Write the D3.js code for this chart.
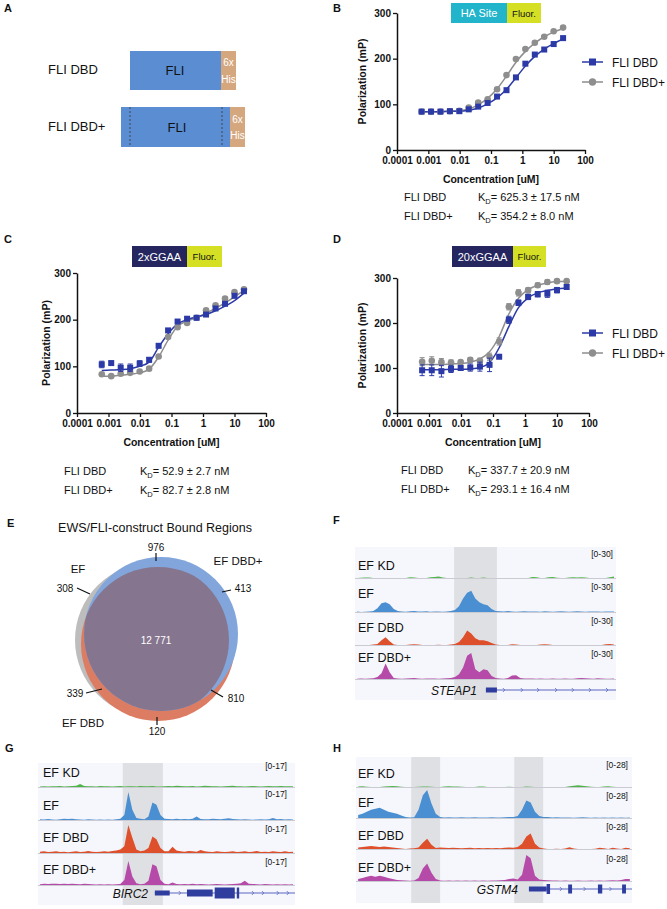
<!DOCTYPE html>
<html><head><meta charset="utf-8">
<script src="https://cdn.jsdelivr.net/npm/d3@7"></script>
<style>body{margin:0;background:#fff}svg{display:block}text{font-family:'Liberation Sans',Arial,sans-serif}</style>
</head><body><svg id="c" width="667" height="909"></svg>
<script>
const FONT = "'Liberation Sans', Arial, sans-serif";
// ---------- Binding data ----------
const conc = [0.00061,0.00122,0.00244,0.00488,0.00977,0.0195,0.039,0.078,0.156,0.3125,0.625,1.25,2.5,5,10,20];
const xTickVals = [0.0001,0.001,0.01,0.1,1,10,100];
const xTickLabels = ["0.0001","0.001","0.01","0.1","1","10","100"];
const yTickVals = [0,100,200,300];
const seriesNames = ["FLI DBD","FLI DBD+"];

const bDbd      = [84,84,84,85,85,89,95,103,117,131,159,189,209,220,232,245];
const bDbdPlus  = [84,84,84,85,86,93,104,111,133,164,199,221,235,248,260,268];
const bFitDbd     = [84,84,84,85,85,87,92,101,114,133,158,184,205,221,233,243];
const bFitDbdPlus = [84,84,84,85,86,90,99,113,134,162,192,216,234,248,258,266];

const cDbd        = [104,107,97,97,106,114,144,177,196,202,204,211,224,234,251,261];
const cDbdErr     = [7,3,8,8,6,5,4,3,3,2,2,3,3,3,3,3];
const cDbdPlus    = [83,79,84,86,89,95,121,163,184,193,204,220,231,245,259,265];
const cDbdPlusErr = [3,2,3,3,3,4,3,3,3,3,2,3,3,4,3,3];
const cFitDbd     = [91,92,93,95,100,109,141,170,191,200,206,211,219,229,241,257];
const cFitDbdPlus = [79,79,81,83,86,94,120,156,186,197,204,214,224,236,249,263];

const dDbd        = [95,95,93,98,100,101,103,107,125,207,245,258,264,265,273,280];
const dDbdErr     = [12,12,13,8,5,8,10,15,0,8,6,6,6,8,6,5];
const dDbdPlus    = [114,116,113,112,113,118,116,125,159,236,267,273,284,291,293,293];
const dDbdPlusErr = [9,9,8,6,4,5,6,8,8,7,7,5,5,5,4,4];
const dFitDbd     = [96,96,96,97,97,98,101,112,145,192,234,256,267,272,276,278];
const dFitDbdPlus = [108,108,108,109,110,113,120,136,170,220,255,274,284,289,292,293];

const kdB = ["625.3 \u00b1 17.5 nM","354.2 \u00b1 8.0 nM"];
const kdC = ["52.9 \u00b1  2.7 nM","82.7 \u00b1 2.8 nM"];
const kdD = ["337.7 \u00b1 20.9 nM","293.1 \u00b1 16.4 nM"];

// ---------- Venn data ----------
const vennSets = ["EF","EF DBD+","EF DBD"];
const vennCounts = {efOnly:308, top:976, dbdPlusOnly:413, left:339, right:810, dbdOnly:120, all:"12 771"};

// ---------- Track data (64 bins per region) ----------
const trackNames = ["EF KD","EF","EF DBD","EF DBD+"];
const fKD  = [0,0.3,0.6,0.6,0,0,0,0, 0,0,0,0,0,0.8,0.6,0, 0,0,0.8,1,1.5,0.6,0,0, 0,0,0,0,0.5,0,0,0.4, 0,0,0,0,0,0,0,0, 0,0,0,1,0.8,0,0,0.8, 1,0.3,0,0,0.6,0.8,0.6,0.8, 0.5,0,0,0,0,0,0.8,1.5];
const fEF  = [0.5,0,0.3,0.5,1,4,9,10, 8,3,1,0.5,0.3,0.8,1,0.6, 0.5,0.8,0.3,0.5,0.5,0.3,0.6,1, 2,6,14,20,22,14,10,8, 7,3,1,0.8,0.5,1,0.6,0.3, 0.5,0.8,0.4,0.6,0.5,0.3,0.7,0.5, 0.3,0.6,0.8,0.4,0.3,0.5,0.7,0.4, 0.3,0.5,0.4,0.6,0.3,0.5,0.4,0.6];
const fDBD = [0,0,0,0,0.5,1,5,8, 4,0.5,0,0,0,0.6,0.8,0.5, 0,0,0,0,0.3,0,0,0.5, 1,3,8,15,12,7,5,5, 4,2,0.5,0,0,0,0.8,0.5, 0,0,0,0,0,0.6,0.8,0.5, 0,0,0,0,0,0,0,0, 0,0,0,0,0,0.8,1,0.6];
const fDBDp= [0.3,0.5,0.3,0.5,0.8,2,6,16, 7,1,0.5,0.3,0.5,0.8,1,0.5, 0.3,0.5,0.6,0.5,0.3,0.5,0.8,1, 2,5,12,24,27,10,7,10, 9,3,1,0.5,0.3,1,3.5,4, 1,0.5,0.5,0.6,0.3,0.5,0.3,0.3, 0.5,0.3,0.3,0.5,0.3,0.3,0.8,1, 0.8,0.5,0.3,0.8,0.5,0.3,0.3,0.5];

const gKD  = [0.3,0.5,0.3,0.4,0.5,0.6,0.3,0.5, 0.6,0.8,1.8,0.6,0.4,0.5,0.3,0.6, 0.5,0.4,0.3,0.5,0.6,0.3,0.5,0.4, 0.3,0.6,0.5,0.4,0.6,0.3,0.3,0.5, 0.6,0.5,0.8,0.6,0.5,0.4,0.6,0.3, 0.5,0.8,0.6,0.4,0.5,0.3,0.5,0.6, 0.8,0.5,0.4,0.3,0.5,0.6,0.4,0.3, 0.5,0.6,0.4,0.5,0.6,0.4,0.5,0.4];
const gEF  = [0.5,0.3,0.6,0.3,0.2,0.5,0.8,0.6, 0.8,0.5,0.3,0.2,0.5,0.3,0.2,0.3, 0.2,0.3,0.2,0.5,0.8,3,16.4,6, 1.2,0.8,0.5,2,10.3,9,3,0.8, 0.6,0.5,0.8,0.5,0.6,0.5,0.8,2, 0.6,0.5,0.4,0.8,0.6,0.5,0.8,1, 0.6,0.5,0.3,0.5,0.3,0.2,0.3,0.5, 0.3,0.5,1.2,0.4,0.6,0.3,0.5,0.3];
const gDBD = [0.8,1,0.6,0.8,1,0.6,0.8,0.5, 0.8,1,0.6,0.8,1.2,0.8,0.6,0.8, 1,0.8,1.2,1.5,2,4,16.4,9, 2,1,1.5,3,9.7,8,3,1, 1,3.6,1.5,1,0.8,1.2,1,0.8, 1.8,1,0.8,0.6,1,0.8,0.6,0.8, 1,0.6,0.8,1,0.6,0.8,1.2,0.6, 0.8,0.6,1,0.8,0.6,1,0.6,0.8];
const gDBDp= [0.5,0.8,0.6,0.8,0.8,0.6,0.8,0.6, 0.8,0.6,0.5,0.8,0.6,0.5,0.3,0.5, 0.3,0.5,0.3,0.5,0.6,3,14,5, 1,0.5,0.8,2.5,12.1,11,3,0.8, 0.5,1.5,0.6,0.5,0.6,0.5,0.8,0.5, 0.6,0.5,0.3,0.5,0.6,0.5,0.3,0.5, 0.6,0.8,1,2.5,0.8,0.6,0.5,0.3, 0.6,0.5,0.3,0.5,0.3,0.5,0.3,0.5];

const hKD  = [0.5,0.8,0.3,0,0,0,0.5,0.8, 1,0.8,0.3,0,0,0,0.3,0.5, 0.5,0.3,0,0,0.5,0.8,0.5,0.6, 0.3,0,0,0,0.5,0.6,0,0, 0,0,0,0.3,0,0,0,0.4, 0.3,0,0,0,0,0,0,0, 0,0.8,1.2,1.6,1.2,0.8,0.3,0, 0,0.6,0.8,0.3,0,0,0,0];
const hEF  = [3,4,6,8,9,10,8,6, 5,4,2.5,1,0.5,0.8,8,22, 27,14,4,1,0.5,0.8,0.6,0.5, 0.8,0.6,0.5,0.8,0.6,0.5,0.6,0.8, 0.6,0.5,0.8,1,1,2,8,17, 15,6,2,1,1,0.6,0.8,0.5, 0.6,0.5,0.3,0.5,0.8,0.5,0.3,0.5, 0.3,0.6,0.3,0.5,0.3,0.5,0.3,0.5];
const hDBD = [1.5,2,2.5,3,2.5,2,2.5,2, 1.5,1,0.5,0,0.5,0.8,1.5,6, 10,4,1,1.5,1.2,1,1.2,1, 0.8,1,1.2,0.8,1,0.8,1,0.8, 1,0.8,1.2,1.5,1.2,2,5,12, 15,5,1.5,0.5,0,0,0.3,0, 0.5,1.8,0.5,0,0,0,0,0.3, 1.2,0.8,0,1.2,0.5,0,1.2,0.8];
const hDBDp= [2,3,4,5,4,5,4,3, 2,1,0.8,0.5,0.3,0.5,3,12, 17,8,2,0.5,0.3,0.5,0.3,0.5, 0.3,0.5,0.3,0.5,0.3,0.5,0.3,0.5, 0.5,0.8,1,2,2.5,1.5,6,25, 22,5,1.5,1,0.8,0.5,0.5,0.3, 0.5,0.3,0.3,0.5,0.3,0.3,0.5,0.3, 0.5,0.3,0.5,0.8,0.5,1,2,2];

const svg = d3.select('#c');
const BLUE = '#2b3aa6', GRAY = '#8e8e8e';

function txt(x,y,s,opt={}){
  const t = svg.append('text').attr('x',x).attr('y',y).text(s)
    .attr('font-size',opt.size||11).attr('fill',opt.fill||'#111')
    .attr('text-anchor',opt.anchor||'start');
  if(opt.weight) t.attr('font-weight',opt.weight);
  if(opt.style) t.attr('font-style',opt.style);
  return t;
}
function kdText(x,y,val){
  const t = svg.append('text').attr('x',x).attr('y',y).attr('font-size',11).attr('fill','#111');
  t.append('tspan').text('K');
  t.append('tspan').text('D').attr('font-size',7.5).attr('dy',3);
  t.append('tspan').text('= '+val).attr('dy',-3);
}
// panel letters
[["A",4,12],["B",333,12],["C",4,243],["D",333,243],["E",7,527],["F",333,524],["G",5,752],["H",333,752]]
 .forEach(([l,x,y])=>txt(x,y,l,{size:11,weight:'bold'}));

// ---------- Panel A ----------
function construct(y, x0, xb, xe, h, dashed){
  svg.append('rect').attr('x',x0).attr('y',y).attr('width',xb-x0).attr('height',h).attr('fill','#5b8dd3');
  svg.append('rect').attr('x',xb).attr('y',y).attr('width',xe-xb).attr('height',h).attr('fill','#d4a77f');
  if(dashed){ dashed.forEach(dx=>svg.append('line').attr('x1',dx).attr('x2',dx).attr('y1',y).attr('y2',y+h)
      .attr('stroke','#333').attr('stroke-width',0.8).attr('stroke-dasharray','2,2')); }
  txt((xb+xe)/2, y+h*0.3+3.5, '6x',{size:10,fill:'#fff',anchor:'middle'});
  txt((xb+xe)/2, y+h*0.72+3.5, 'His',{size:10,fill:'#fff',anchor:'middle'});
}
construct(51,130,221,236,39,null);
construct(107,121,230,245,40,[130,222]);
txt(175,75,'FLI',{size:13,anchor:'middle'});
txt(177,132,'FLI',{size:13,anchor:'middle'});
txt(48,74,'FLI DBD',{size:13});
txt(48,131,'FLI DBD+',{size:13});

// ---------- Binding panels ----------
function header(x0,xm,x1,y0,y1,label,col){
  svg.append('rect').attr('x',x0).attr('y',y0).attr('width',xm-x0).attr('height',y1-y0).attr('fill',col);
  svg.append('rect').attr('x',xm).attr('y',y0).attr('width',x1-xm).attr('height',y1-y0).attr('fill','#d5e025');
  txt((x0+xm)/2,(y0+y1)/2+4,label,{size:11,fill:'#fff',anchor:'middle'});
  txt((xm+x1)/2,(y0+y1)/2+3.5,'Fluor.',{size:9.5,fill:'#111',anchor:'middle'});
}
function binding(o){
  const x = d3.scaleLog().domain([1e-4,100]).range([o.x0,o.x1]);
  const y = d3.scaleLinear().domain([0,300]).range([o.yb,o.yt]);
  const g = svg.append('g');
  const xa = g.append('g').attr('transform',`translate(0,${o.yb})`)
    .call(d3.axisBottom(x).tickValues(xTickVals).tickFormat((d,i)=>xTickLabels[i]).tickSize(4).tickSizeOuter(0).tickPadding(3));
  const ya = g.append('g').attr('transform',`translate(${o.x0},0)`)
    .call(d3.axisLeft(y).tickValues(yTickVals).tickSize(4).tickSizeOuter(0).tickPadding(2));
  [xa,ya].forEach(a=>{
    a.attr('font-family',FONT).attr('font-size',10).attr('font-weight','bold');
    a.select('.domain').attr('stroke','#111').attr('stroke-width',1.5);
    a.selectAll('.tick line').attr('stroke','#111').attr('stroke-width',1.3);
    a.selectAll('text').attr('fill','#111');
  });
  const xm = (o.x0+o.x1)/2;
  txt(xm, o.yb+33, 'Concentration [uM]', {size:10.5,weight:'bold',anchor:'middle'});
  svg.append('text').attr('transform',`translate(${o.ytx},${(o.yb+o.yt)/2}) rotate(-90)`)
    .attr('text-anchor','middle').attr('font-size',10.5).attr('font-weight','bold').attr('fill','#111').text('Polarization (mP)');
  const line = d3.line().x((d,i)=>x(conc[i])).y(d=>y(d)).curve(d3.curveMonotoneX);
  const ser = [
    {v:o.plus, e:o.plusErr, f:o.fitPlus, c:GRAY, shape:'circle'},
    {v:o.dbd, e:o.dbdErr, f:o.fitDbd, c:BLUE, shape:'square'}];
  ser.forEach(s=>g.append('path').attr('d',line(s.f)).attr('fill','none').attr('stroke',s.c).attr('stroke-width',1.5));
  ser.forEach(s=>{
    if(s.e){
      s.v.forEach((v,i)=>{ if(!s.e[i]) return;
        const cx=x(conc[i]), y1=y(v+s.e[i]), y2=y(v-s.e[i]);
        g.append('path').attr('d',`M${cx},${y1}V${y2}M${cx-2.5},${y1}H${cx+2.5}M${cx-2.5},${y2}H${cx+2.5}`)
          .attr('stroke',s.c).attr('stroke-width',1).attr('fill','none');
      });
    }
    s.v.forEach((v,i)=>{
      if(s.shape==='circle') g.append('circle').attr('cx',x(conc[i])).attr('cy',y(v)).attr('r',3.3).attr('fill',s.c);
      else g.append('rect').attr('x',x(conc[i])-3).attr('y',y(v)-3).attr('width',6).attr('height',6).attr('fill',s.c);
    });
  });
  if(o.legend){
    const L = o.legend;
    [[BLUE,'square',L.y],[GRAY,'circle',L.y+20]].forEach(([c,sh,ly],k)=>{
      svg.append('line').attr('x1',582).attr('x2',603).attr('y1',ly).attr('y2',ly).attr('stroke',c).attr('stroke-width',1.5);
      if(sh==='square') svg.append('rect').attr('x',589).attr('y',ly-3.5).attr('width',7).attr('height',7).attr('fill',c);
      else svg.append('circle').attr('cx',592.5).attr('cy',ly).attr('r',3.7).attr('fill',c);
      txt(612,ly+4.5,seriesNames[k],{size:12});
    });
  }
  o.kd.forEach((k,i)=>{
    txt(o.kdx0, o.kdy+i*19, seriesNames[i], {size:11});
    kdText(o.kdx1, o.kdy+i*19, k);
  });
}
header(451,507,541,3,23,'HA Site','#22b4ca');
header(132,187,222,246,267,'2xGGAA','#252660');
header(452,513,546,246,267,'20xGGAA','#252660');

binding({x0:397,x1:585,yb:150,yt:13,ytx:366,dbd:bDbd,plus:bDbdPlus,fitDbd:bFitDbd,fitPlus:bFitDbdPlus,
  legend:{y:62},kd:kdB,kdx0:404,kdx1:478,kdy:201});
binding({x0:77,x1:266,yb:413,yt:273,ytx:50,dbd:cDbd,dbdErr:cDbdErr,plus:cDbdPlus,plusErr:cDbdPlusErr,
  fitDbd:cFitDbd,fitPlus:cFitDbdPlus,kd:kdC,kdx0:64,kdx1:140,kdy:475});
binding({x0:397,x1:589,yb:413,yt:278,ytx:366,dbd:dDbd,dbdErr:dDbdErr,plus:dDbdPlus,plusErr:dDbdPlusErr,
  fitDbd:dFitDbd,fitPlus:dFitDbdPlus,legend:{y:333},kd:kdD,kdx0:401,kdx1:468,kdy:474});

// ---------- Panel E: Venn ----------
txt(155,532,'EWS/FLI-construct Bound Regions',{size:12.5,anchor:'middle'});
const circ = [
  {cx:152,cy:640,r:77,fill:'#bdbdbd'},
  {cx:158,cy:644,r:77,fill:'#dc7d63'},
  {cx:161,cy:634,r:77,fill:'#82a6dc'}];
const defs = svg.append('defs');
circ.forEach((c,i)=>defs.append('clipPath').attr('id','vc'+i).append('circle').attr('cx',c.cx).attr('cy',c.cy).attr('r',c.r));
circ.forEach(c=>svg.append('circle').attr('cx',c.cx).attr('cy',c.cy).attr('r',c.r).attr('fill',c.fill));
svg.append('g').attr('clip-path','url(#vc0)').append('g').attr('clip-path','url(#vc1)')
  .append('circle').attr('cx',circ[2].cx).attr('cy',circ[2].cy).attr('r',circ[2].r).attr('fill','#85758f');
function vline(x1,y1,x2,y2){svg.append('line').attr('x1',x1).attr('y1',y1).attr('x2',x2).attr('y2',y2).attr('stroke','#111').attr('stroke-width',1.2);}
txt(156,551,vennCounts.top,{size:10,anchor:'middle'}); vline(156,553,156,561);
txt(78,573,vennSets[0],{size:11.5,anchor:'middle'});
txt(238,565,vennSets[1],{size:11.5,anchor:'middle'});
txt(65,592,vennCounts.efOnly,{size:10,anchor:'middle'}); vline(77,588,90,594);
txt(243,592,vennCounts.dbdPlusOnly,{size:10,anchor:'middle'}); vline(222,592,231,590);
txt(156,644,vennCounts.all,{size:10,anchor:'middle',fill:'#fff'});
txt(75,697,vennCounts.left,{size:10,anchor:'middle'}); vline(86,693,102,689);
txt(236,702,vennCounts.right,{size:10,anchor:'middle'}); vline(211,690,223,697);
txt(83,727,vennSets[2],{size:11.5,anchor:'middle'});
txt(157,735,vennCounts.dbdOnly,{size:10,anchor:'middle'}); vline(157,717,157,725);

// ---------- Tracks ----------
const trackColors = ['#4fb548','#4a8fd1','#de4f2b','#b54aa9'];
function tracks(o){
  const N = 64;
  const x = d3.scaleLinear().domain([0,N]).range([o.x0,o.x1]);
  const h = d3.scaleLinear().domain([0,o.max]).range([0,29]);
  svg.append('rect').attr('x',o.x0).attr('y',o.y0).attr('width',o.x1-o.x0).attr('height',o.y1-o.y0).attr('fill','#f6f7fc');
  o.hl.forEach(([a,b])=>svg.append('rect').attr('x',x(a)).attr('y',o.y0).attr('width',x(b)-x(a)).attr('height',o.y1-o.y0).attr('fill','#dfe0e3'));
  o.data.forEach((d,k)=>{
    const base = o.base[k];
    svg.append('line').attr('x1',o.x0).attr('x2',o.x1).attr('y1',base+0.5).attr('y2',base+0.5).attr('stroke','#c9cad2').attr('stroke-width',1);
    const area = d3.area().x((v,i)=>x(i+0.5)).y0(base).y1(v=>base-h(v)).curve(d3.curveLinear);
    svg.append('path').attr('d',area(d)).attr('fill',trackColors[k]);
    txt(o.lx, o.lab[k], trackNames[k], {size:12.5});
    txt(o.rx, o.rng[k], '['+'0-'+o.max+']', {size:8.5,anchor:'end'});
  });
  const G = o.gene, gy = G.y, c = '#2f3d9f';
  svg.append('line').attr('x1',x(G.line[0])).attr('x2',x(G.line[1])).attr('y1',gy).attr('y2',gy).attr('stroke','#5b67c0').attr('stroke-width',1);
  G.chev.forEach(b=>svg.append('path').attr('d',`M${x(b)-1},${gy-2}L${x(b)+1},${gy}L${x(b)-1},${gy+2}`).attr('stroke','#5b67c0').attr('fill','none').attr('stroke-width',0.8));
  G.exons.forEach(([a,b,hh])=>svg.append('rect').attr('x',x(a)).attr('y',gy-hh/2).attr('width',Math.max(1,x(b)-x(a))).attr('height',hh).attr('fill',c));
  txt(G.nx, gy+4.5, G.name, {size:12,anchor:'end',style:'italic'});
}
tracks({x0:355,x1:616,y0:547,y1:700,max:30,hl:[[24.3,34.8]],data:[fKD,fEF,fDBD,fDBDp],
  base:[578,612,645,679],lab:[569.5,597.5,631.5,661.5],rng:[557,590,624,657],lx:358,rx:613,
  gene:{y:690,name:'STEAP1',nx:477,line:[32.1,64],exons:[[32.1,34.8,5]],chev:[36.5,40.9,44.9,49.3,53.4,57.6,61.8]}});
tracks({x0:38,x1:295,y0:763,y1:905,max:17,hl:[[21.1,31.1]],data:[gKD,gEF,gDBD,gDBDp],
  base:[787,820,853,885],lab:[776.5,809.5,841.5,873.5],rng:[769,797,832,865],lx:43,rx:287,
  gene:{y:893,name:'BIRC2',nx:148,line:[29.1,64],exons:[[29.1,32.8,5],[37.1,43.5,7],[44,49,11],[49.5,50.1,11]],chev:[35.3,53.5,56,59.7,62.2]}});
tracks({x0:356,x1:632,y0:757,y1:903,max:28,hl:[[12.8,19.5],[36.7,43.4]],data:[hKD,hEF,hDBD,hDBDp],
  base:[787,818,849,881],lab:[777.5,806.5,839.5,871.5],rng:[768,799,830,862],lx:358,rx:628,
  gene:{y:889,name:'GSTM4',nx:518,line:[40.1,64],exons:[[40.1,44.2,5],[44.2,45,10],[49.2,50.1,9],[56.1,57.1,9],[61.7,62.6,9]],chev:[47.5,53,59]}});
</script></body></html>
